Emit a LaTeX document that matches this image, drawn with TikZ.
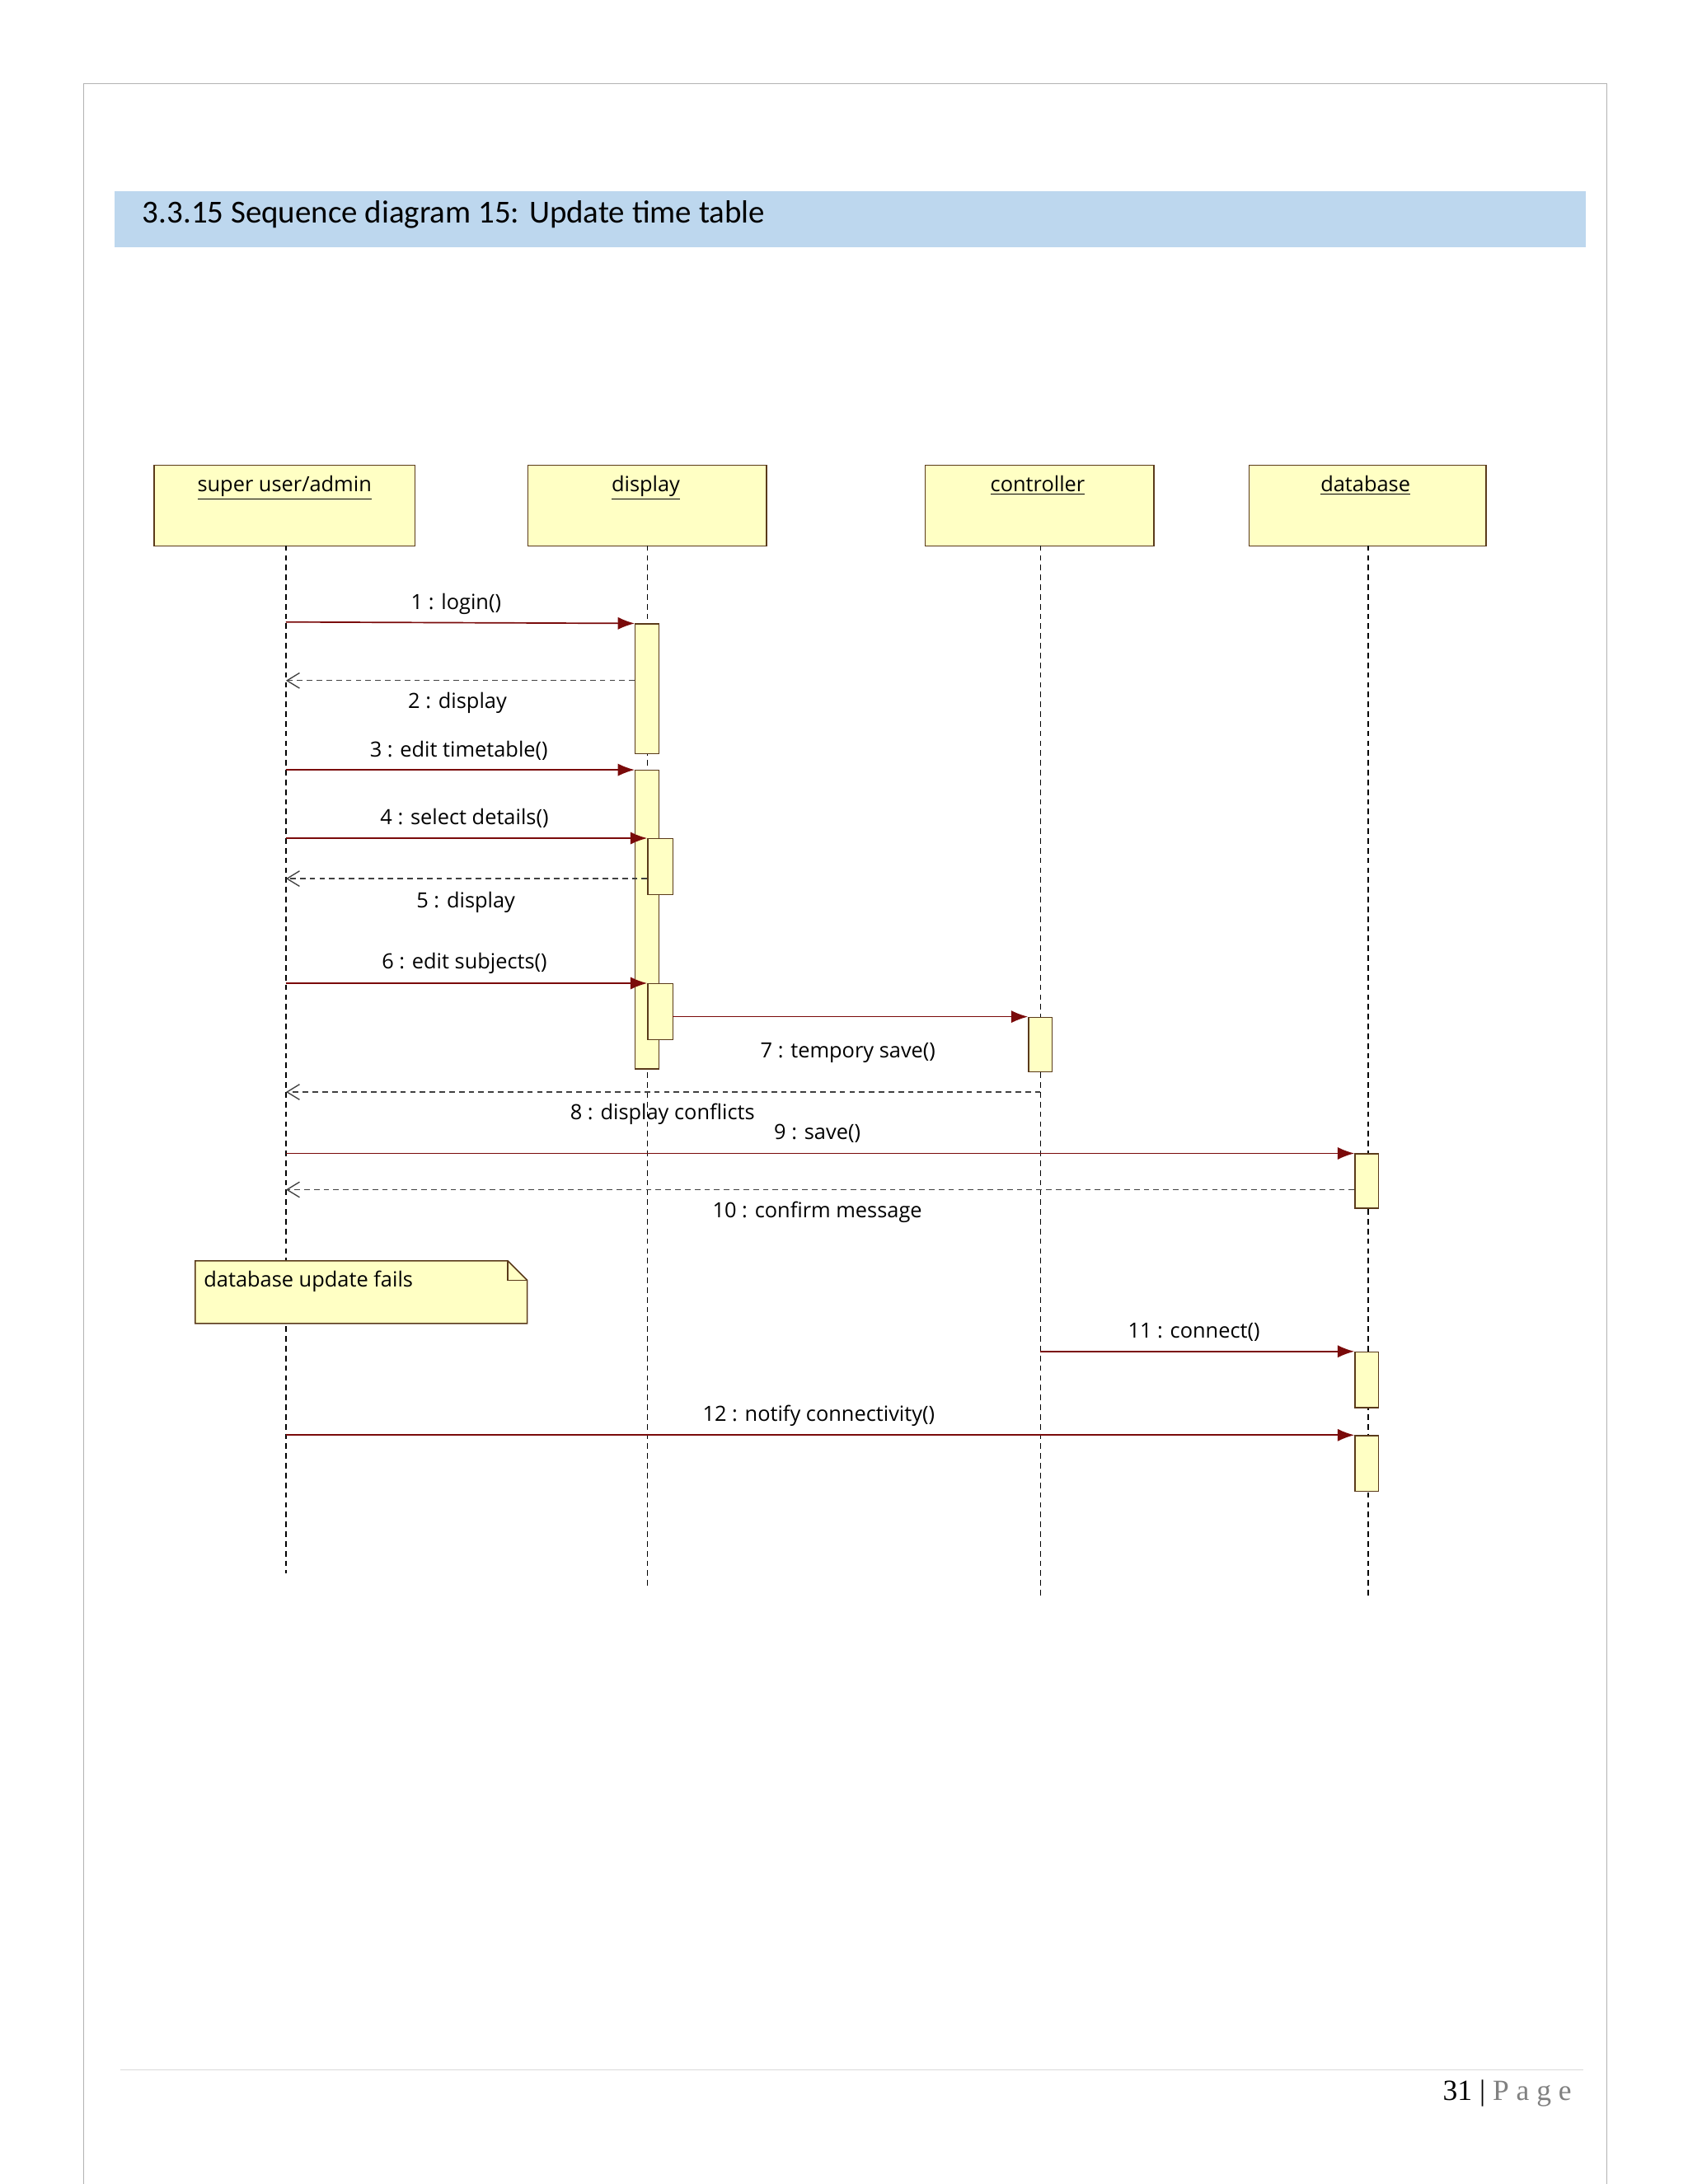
\documentclass[tikz,border=0pt]{standalone}
\usepackage{fontspec}
\setmainfont{Carlito}
\newfontfamily\diag{Open Sans}
\newfontfamily\ser{Liberation Serif}
\usetikzlibrary{arrows.meta}
\definecolor{boxfill}{HTML}{FFFFC4}
\definecolor{boxline}{HTML}{5A3A1A}
\definecolor{msg}{HTML}{7A0A0A}
\definecolor{band}{HTML}{BDD7EE}
\begin{document}
\begin{tikzpicture}[x=1pt,y=-1pt,
  obj/.style={draw=boxline,fill=boxfill,line width=0.9pt},
  act/.style={draw=boxline,fill=boxfill,line width=0.8pt},
  life/.style={dashed,line width=0.8pt,dash pattern=on 4pt off 3pt},
  call/.style={draw=msg,line width=1pt,-{Latex[length=12pt,width=9pt]}},
  ret/.style={draw=black!75,line width=0.8pt,dash pattern=on 4pt off 3pt,-{Straight Barb[length=9pt,width=11pt]}},
  lbl/.style={font=\diag\fontsize{15}{17}\selectfont,inner sep=0pt},
  tt/.style={font=\diag\fontsize{15}{17}\selectfont,inner sep=0pt,anchor=north}]
\useasboundingbox (0,0) rectangle (1210,1566);
\fill[white] (0,0) rectangle (1210,1566);
\draw[gray!60,line width=1pt] (60,1570) -- (60,60) -- (1152,60) -- (1152,1570);
\fill[band] (82,137) rectangle (1137,177);
\node[anchor=west,inner sep=0pt,font=\fontsize{23}{26}\selectfont] (title) at (102,154) {3.3.15 Sequence diagram 15: Update time table};
% objects
\node[obj,minimum width=187pt,minimum height=58pt,anchor=north west] (su) at (110,333) {};
\node[obj,minimum width=171pt,minimum height=58pt,anchor=north west] (di) at (378,333) {};
\node[obj,minimum width=164pt,minimum height=58pt,anchor=north west] (co) at (663,333) {};
\node[obj,minimum width=170pt,minimum height=58pt,anchor=north west] (db) at (895,333) {};
\node[tt] (sut) at (204,341) {\underline{super user/admin}};
\node[tt] (dit) at (463,341) {\underline{display}};
\node[tt] (cot) at (744,341) {\underline{controller}};
\node[tt] (dbt) at (979,341) {\underline{database}};
% lifelines
\coordinate (suE) at (205,1128);\coordinate (diE) at (464,1137);
\coordinate (coE) at (746,1145);\coordinate (dbE) at (981,1145);
\draw[life] (205,391) -- (suE);
\draw[life] (464,391) -- (diE);
\draw[life] (746,391) -- (coE);
\draw[life] (981,391) -- (dbE);
% activations
\node[act,minimum width=17pt,minimum height=93pt,anchor=north west,inner sep=0pt] (a1) at (455,447) {};
\node[act,minimum width=17pt,minimum height=214pt,anchor=north west,inner sep=0pt] (a2) at (455,552) {};
\node[act,minimum width=18pt,minimum height=40pt,anchor=north west,inner sep=0pt] (a3) at (464,601) {};
\node[act,minimum width=18pt,minimum height=40pt,anchor=north west,inner sep=0pt] (a4) at (464,705) {};
\node[act,minimum width=17pt,minimum height=39pt,anchor=north west,inner sep=0pt] (a5) at (737,729) {};
\node[act,minimum width=17pt,minimum height=39pt,anchor=north west,inner sep=0pt] (a6) at (971,827) {};
\node[act,minimum width=17pt,minimum height=40pt,anchor=north west,inner sep=0pt] (a7) at (971,969) {};
\node[act,minimum width=17pt,minimum height=40pt,anchor=north west,inner sep=0pt] (a8) at (971,1029) {};
% messages
\draw[call] (205,446) -- (a1.north west);
\node[lbl] (m1) at (327,433) {1 : login()};
\draw[ret] (455,488) -- (205,488);
\node[lbl] (m2) at (328,504) {2 : display};
\draw[call] (205,552) -- (a2.north west);
\node[lbl] (m3) at (329,538) {3 : edit timetable()};
\draw[call] (205,601) -- (a3.north west);
\node[lbl] (m4) at (333,587) {4 : select details()};
\draw[ret] (464,630) -- (205,630);
\node[lbl] (m5) at (334,647) {5 : display};
\draw[call] (205,705) -- (a4.north west);
\node[lbl] (m6) at (333,691) {6 : edit subjects()};
\draw[call] (482,729) -- (a5.north west);
\node[lbl] (m7) at (608,755) {7 : tempory save()};
\draw[ret] (746,783) -- (205,783);
\node[lbl] (m8) at (475,799) {8 : display conflicts};
\draw[call] (205,827) -- (a6.north west);
\node[lbl] (m9) at (586,813) {9 : save()};
\draw[ret] (971,853) -- (205,853);
\node[lbl] (m10) at (586,869) {10 : confirm message};
\draw[call] (746,969) -- (a7.north west);
\node[lbl] (m11) at (856,955) {11 : connect()};
\draw[call] (205,1029) -- (a8.north west);
\node[lbl] (m12) at (587,1015) {12 : notify connectivity()};
% note
\draw[obj] (140,904) -- (364,904) -- (378,918) -- (378,949) -- (140,949) -- cycle;
\draw[boxline,line width=0.8pt] (364,904) -- (364,918) -- (378,918);
\node[lbl,anchor=west] (note) at (146,919) {database update fails};
% footer
\draw[gray!30,line width=0.8pt] (86,1484) -- (1135,1484);
\node[anchor=east,inner sep=0pt,font=\ser\fontsize{21}{24}\selectfont] (pg) at (1127,1501) {31 | \textcolor{gray}{P a g e}};
\end{tikzpicture}
\end{document}
